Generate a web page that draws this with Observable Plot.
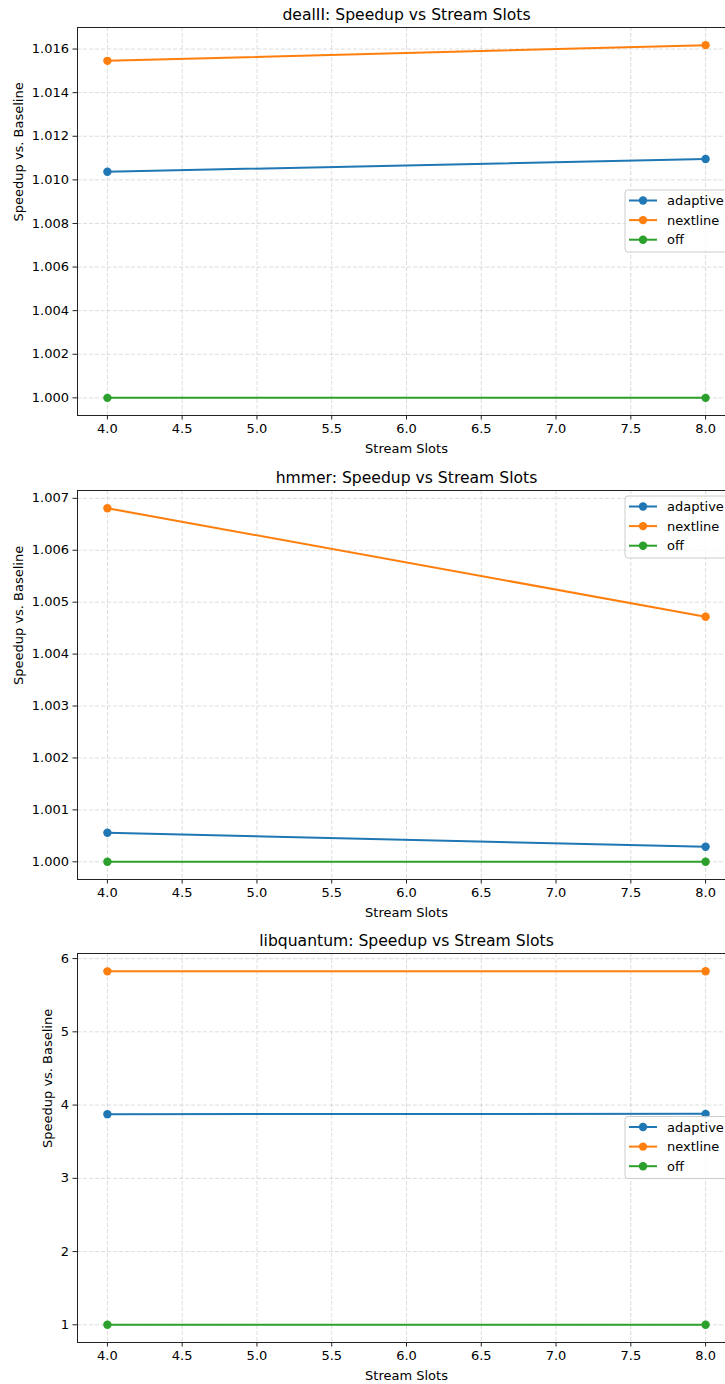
<!DOCTYPE html>
<html>
<head>
<meta charset="utf-8">
<script src="https://cdn.jsdelivr.net/npm/d3@7"></script>
<script src="https://cdn.jsdelivr.net/npm/@observablehq/plot@0.6"></script>
<style>
  html, body { margin: 0; padding: 0; background: #fff; overflow: hidden; }
  #chart { width: 725px; }
  #chart svg { display: block; }
</style>
</head>
<body>
<div id="chart"></div>
<script>
// ---- data ----
const slots = [4, 8];
const series = ["adaptive", "nextline", "off"];
const colors = ["#1f77b4", "#ff7f0e", "#2ca02c"];
const xTicks = [4.0, 4.5, 5.0, 5.5, 6.0, 6.5, 7.0, 7.5, 8.0];

const dealiiAdaptive = [1.01037, 1.01096];
const dealiiNextline = [1.01546, 1.01618];
const dealiiOff = [1.0, 1.0];
const dealiiTicks = [1.000, 1.002, 1.004, 1.006, 1.008, 1.010, 1.012, 1.014, 1.016];

const hmmerAdaptive = [1.00056, 1.00029];
const hmmerNextline = [1.00681, 1.00472];
const hmmerOff = [1.0, 1.0];
const hmmerTicks = [1.000, 1.001, 1.002, 1.003, 1.004, 1.005, 1.006, 1.007];

const libqAdaptive = [3.876, 3.880];
const libqNextline = [5.826, 5.828];
const libqOff = [1.0, 1.0];
const libqTicks = [1, 2, 3, 4, 5, 6];

const panels = [
  {title: "dealII: Speedup vs Stream Slots", values: [dealiiAdaptive, dealiiNextline, dealiiOff],
   ticks: dealiiTicks, fmt: ".3f", height: 460, mt: 27, mb: 45, labelDx: -58.5, legend: "center"},
  {title: "hmmer: Speedup vs Stream Slots", values: [hmmerAdaptive, hmmerNextline, hmmerOff],
   ticks: hmmerTicks, fmt: ".3f", height: 462, mt: 30, mb: 43, labelDx: -58.5, legend: "top"},
  {title: "libquantum: Speedup vs Stream Slots", values: [libqAdaptive, libqNextline, libqOff],
   ticks: libqTicks, fmt: "d", height: 462, mt: 31, mb: 42, labelDx: -30, legend: "center"}
];

const W = 725, ML = 77, MR = -10;
const font = "DejaVu Sans, sans-serif";

function pad(arr) {
  const lo = d3.min(arr), hi = d3.max(arr), s = hi - lo;
  return [lo - 0.05 * s, hi + 0.05 * s];
}

const chart = document.getElementById("chart");

for (const p of panels) {
  const rows = [];
  series.forEach((s, i) => slots.forEach((x, j) => rows.push({series: s, x, y: p.values[i][j]})));
  const yDomain = pad(rows.map(d => d.y));
  const xDomain = pad(slots);

  const svg = Plot.plot({
    width: W,
    height: p.height,
    marginLeft: ML,
    marginRight: MR,
    marginTop: p.mt,
    marginBottom: p.mb,
    style: {fontFamily: font, fontSize: "13px", color: "#000", background: "#fff"},
    x: {domain: xDomain},
    y: {domain: yDomain},
    color: {domain: series, range: colors},
    marks: [
      Plot.gridX(xTicks, {stroke: "#b0b0b0", strokeOpacity: 0.55, strokeWidth: 0.8, strokeDasharray: "4,2"}),
      Plot.gridY(p.ticks, {stroke: "#b0b0b0", strokeOpacity: 0.55, strokeWidth: 0.8, strokeDasharray: "4,2"}),
      Plot.line(rows, {x: "x", y: "y", z: "series", stroke: "series", strokeWidth: 2}),
      Plot.dot(rows, {x: "x", y: "y", fill: "series", r: 4.2, stroke: null}),
      Plot.frame({stroke: "#222", strokeWidth: 1}),
      Plot.axisX(xTicks, {tickFormat: d3.format(".1f"), tickSize: 4.5, tickPadding: 4, fontSize: 13, label: null, stroke: "#222"}),
      Plot.axisY(p.ticks, {tickFormat: d3.format(p.fmt), tickSize: 4.5, tickPadding: 4, fontSize: 13, label: null, stroke: "#222"}),
      Plot.text([p.title], {frameAnchor: "top", lineAnchor: "middle", dy: -13, fontSize: 15.6, fill: "#000", textAnchor: "middle"}),
      Plot.text(["Stream Slots"], {frameAnchor: "bottom", lineAnchor: "middle", dy: 33, fontSize: 13, fill: "#000"}),
      Plot.text(["Speedup vs. Baseline"], {frameAnchor: "left", lineAnchor: "middle", rotate: -90, dx: p.labelDx, fontSize: 13, fill: "#000"})
    ]
  });
  chart.appendChild(svg);

  // legend (matplotlib-style)
  const plotTop = p.mt, plotBottom = p.height - p.mb, plotRight = W - MR;
  const boxW = 106, boxH = 62;
  const bx = plotRight - 4 - boxW;
  const by = p.legend === "top" ? plotTop + 6 : (plotTop + plotBottom) / 2 - boxH / 2;
  const g = d3.select(svg).append("g").attr("font-family", font).attr("font-size", 13).attr("text-anchor", "start");
  g.append("rect").attr("x", bx).attr("y", by).attr("width", boxW).attr("height", boxH)
    .attr("rx", 3).attr("fill", "#fff").attr("fill-opacity", 0.8).attr("stroke", "#cccccc").attr("stroke-width", 1);
  series.forEach((s, i) => {
    const yy = by + 10.5 + i * 19.6;
    g.append("line").attr("x1", bx + 4).attr("x2", bx + 32).attr("y1", yy).attr("y2", yy)
      .attr("stroke", colors[i]).attr("stroke-width", 2);
    g.append("circle").attr("cx", bx + 18).attr("cy", yy).attr("r", 4.2).attr("fill", colors[i]);
    g.append("text").attr("x", bx + 42).attr("y", yy).attr("dy", "0.35em").attr("text-anchor", "start")
      .attr("fill", "#000").text(s);
  });
}
</script>
</body>
</html>
